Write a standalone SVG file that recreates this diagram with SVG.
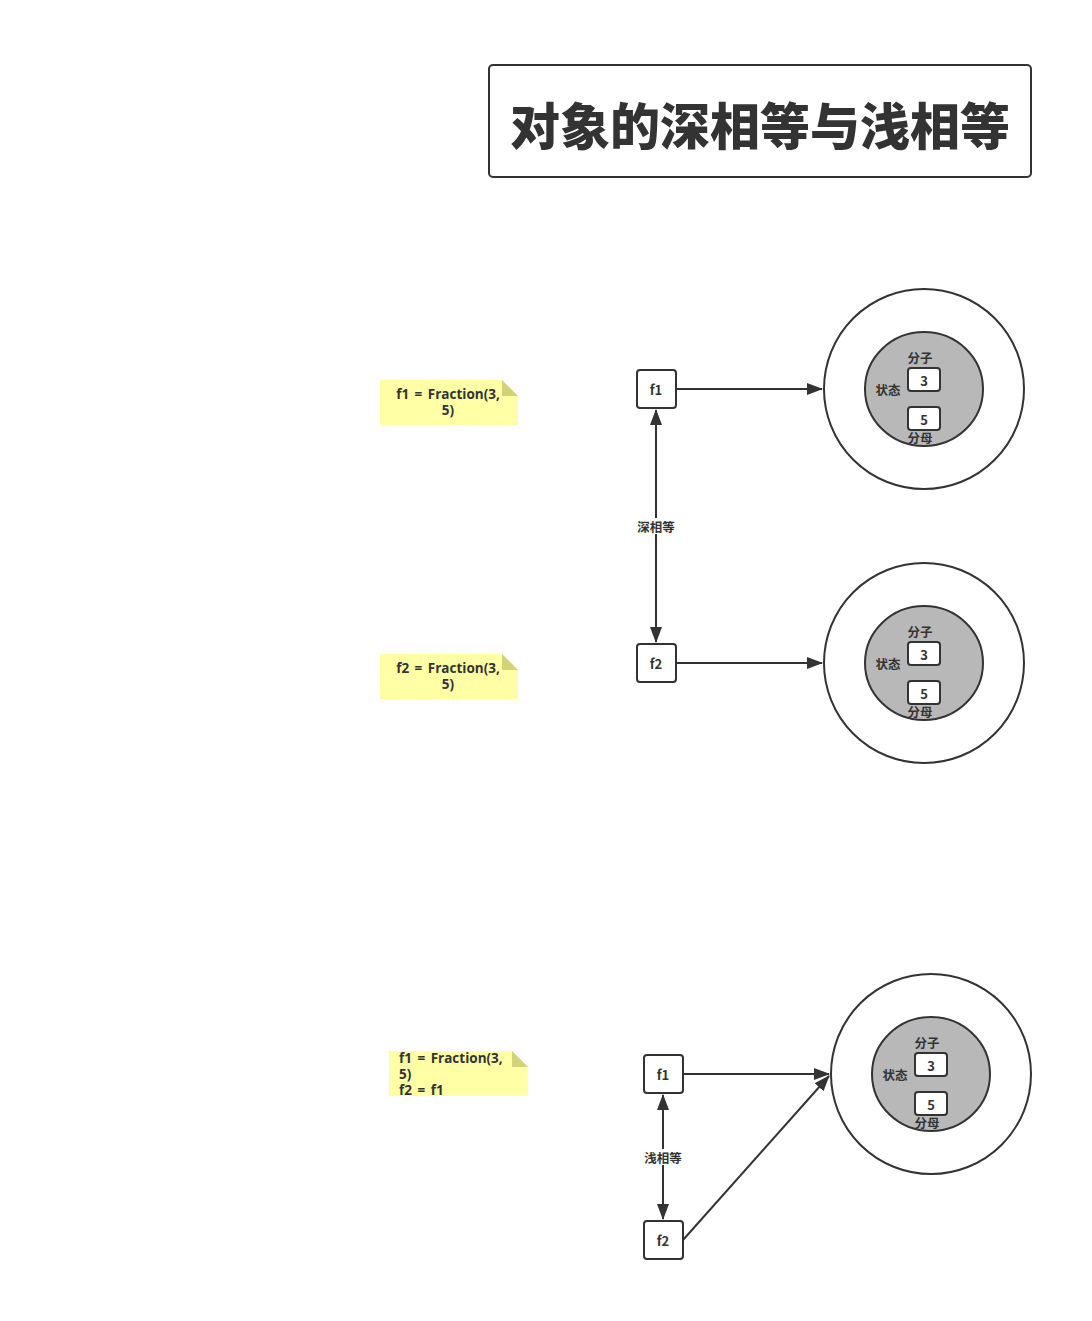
<svg xmlns="http://www.w3.org/2000/svg" width="1092" height="1321" viewBox="0 0 1092 1321">
<defs>
<style>
.t{font-family:"Noto Sans CJK SC","Noto Sans",sans-serif;font-weight:bold;fill:#333;text-anchor:middle;dominant-baseline:central}
.n{font-family:"Open Sans","Noto Sans",sans-serif;font-weight:bold;fill:#333;font-size:13.5px;word-spacing:2px;dominant-baseline:central}
.box{fill:#fff;stroke:#333;stroke-width:2}
.line{stroke:#333;stroke-width:2;fill:none}
.note{fill:#ffffa5}
.fold{fill:#d2d27a}
.outer{fill:#fff;stroke:#333;stroke-width:2}
.inner{fill:#b8b8b8;stroke:#333;stroke-width:2}
.s13{font-size:13px}
.s12{font-size:12.5px}
</style>
<marker id="ah" viewBox="0 0 16 12" refX="15" refY="6" markerWidth="16" markerHeight="12" markerUnits="userSpaceOnUse" orient="auto-start-reverse">
<path d="M0,0 L16,6 L0,12 Z" fill="#333"/>
</marker>
<g id="obj">
<circle class="outer" cx="0" cy="0" r="100"/>
<ellipse class="inner" cx="0" cy="0" rx="59" ry="57"/>
<text class="t s12" x="-4" y="-32">分子</text>
<rect class="box" x="-16" y="-21" width="32" height="23" rx="3"/>
<text class="t s13" x="0" y="-9">3</text>
<rect class="box" x="-16" y="18" width="32" height="23" rx="3"/>
<text class="t s13" x="0" y="30">5</text>
<text class="t s12" x="-4" y="48">分母</text>
<text class="t s12" x="-36" y="0">状态</text>
</g>
</defs>
<rect width="1092" height="1321" fill="#fff"/>

<g id="title">
<rect x="489" y="65" width="542" height="112" rx="4" fill="#fff" stroke="#333" stroke-width="2"/>
<text class="t" x="760" y="123" style="font-size:50px;font-weight:900">对象的深相等与浅相等</text>
</g>

<g id="connectors">
<line class="line" x1="676" y1="389" x2="822" y2="389" marker-end="url(#ah)"/>
<line class="line" x1="676" y1="663" x2="822" y2="663" marker-end="url(#ah)"/>
<line class="line" x1="656" y1="410" x2="656" y2="642" marker-start="url(#ah)" marker-end="url(#ah)"/>
<rect x="636" y="518" width="40" height="16" fill="#fff"/>
<text class="t s12" x="656" y="526">深相等</text>
<line class="line" x1="683" y1="1074" x2="829" y2="1074" marker-end="url(#ah)"/>
<line class="line" x1="683" y1="1240" x2="829" y2="1076" marker-end="url(#ah)"/>
<line class="line" x1="663" y1="1095" x2="663" y2="1219" marker-start="url(#ah)" marker-end="url(#ah)"/>
<rect x="643" y="1149" width="40" height="16" fill="#fff"/>
<text class="t s12" x="663" y="1157">浅相等</text>
</g>

<g id="note1">
<path class="note" d="M380,380 H502 L518,396 V425 H380 Z"/>
<path class="fold" d="M502,380 L518,396 H502 Z"/>
<text class="n" x="448" y="394" text-anchor="middle">f1 = Fraction(3,</text>
<text class="n" x="448" y="410" text-anchor="middle">5)</text>
</g>
<g id="f1a"><rect class="box" x="637" y="370" width="39" height="38" rx="3"/><text class="t s13" x="656" y="389">f1</text></g>
<g id="f2a"><rect class="box" x="637" y="644" width="39" height="38" rx="3"/><text class="t s13" x="656" y="663">f2</text></g>
<g id="obj1"><use href="#obj" x="924" y="389"/></g>

<g id="note2">
<path class="note" d="M380,654 H502 L518,670 V699 H380 Z"/>
<path class="fold" d="M502,654 L518,670 H502 Z"/>
<text class="n" x="448" y="668" text-anchor="middle">f2 = Fraction(3,</text>
<text class="n" x="448" y="684" text-anchor="middle">5)</text>
</g>
<g id="obj2"><use href="#obj" x="924" y="663"/></g>

<g id="note3">
<path class="note" d="M389,1051 H512 L528,1067 V1096 H389 Z"/>
<path class="fold" d="M512,1051 L528,1067 H512 Z"/>
<text class="n" x="399" y="1058">f1 = Fraction(3,</text>
<text class="n" x="399" y="1074">5)</text>
<text class="n" x="399" y="1090">f2 = f1</text>
</g>
<g id="f1b"><rect class="box" x="644" y="1055" width="39" height="38" rx="3"/><text class="t s13" x="663" y="1074">f1</text></g>
<g id="f2b"><rect class="box" x="644" y="1221" width="39" height="38" rx="3"/><text class="t s13" x="663" y="1240">f2</text></g>
<g id="obj3"><use href="#obj" x="931" y="1074"/></g>
</svg>
